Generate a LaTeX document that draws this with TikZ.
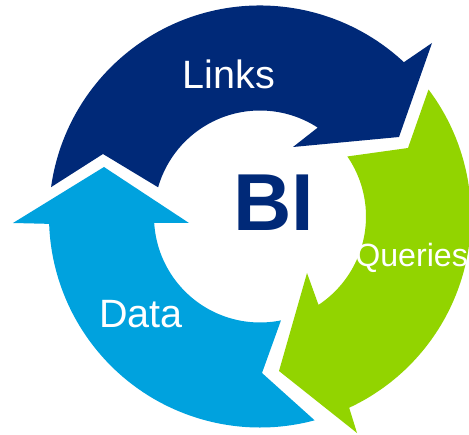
\documentclass[tikz,border=0pt]{standalone}
\usepackage{fontspec}
\setmainfont{Liberation Sans}
\definecolor{linksblue}{RGB}{0,41,120}
\definecolor{querygreen}{RGB}{146,212,0}
\definecolor{datablue}{RGB}{0,162,222}
\tikzset{
  cyclelabel/.style={text=white, inner sep=0pt, anchor=base,
    font=\fontsize{22.5}{27}\selectfont},
}

\begin{document}
\begin{tikzpicture}[x=0.02cm,y=0.02cm]
  \useasboundingbox (-260,-218.5) rectangle (209,216.5);

  % Links
  \path[fill=linksblue] (172:211) arc[start angle=172, end angle=47, radius=211]
    -- (172,173.5) -- (139,79.5) -- (33,69.5) -- (57:106)
    arc[start angle=57, end angle=164, radius=106] -- (-157,62.5) -- cycle;

  % Queries
  \path[fill=querygreen] (37:211) arc[start angle=37, end angle=-65, radius=211]
    -- (97,-216.5) -- (19,-154.5) -- (47,-56.5) -- (-56.5:106)
    arc[start angle=-56.5, end angle=34.5, radius=106] -- (148,68.5) -- cycle;

  % Data
  \path[fill=datablue] (-75:211) arc[start angle=-75, end angle=-178, radius=211]
    -- (-247,-6.5) -- (-156,49.5) -- (-71,-6.5) -- (-176.5:106)
    arc[start angle=-176.5, end angle=-78.6, radius=106] -- (2,-156.5) -- cycle;

  \node[cyclelabel] (links) at (-31,127.5) {Links};
  \node[cyclelabel] (data) at (-119,-110.5) {Data};
  \node[cyclelabel, anchor=base west, font=\fontsize{18.3}{22}\selectfont]
    (queries) at (95,-50.5) {Queries};
  \node[inner sep=0pt, anchor=base, text=linksblue,
    font=\fontsize{46}{55}\selectfont\bfseries] (bi) at (14,-14.5) {BI};
\end{tikzpicture}
\end{document}
